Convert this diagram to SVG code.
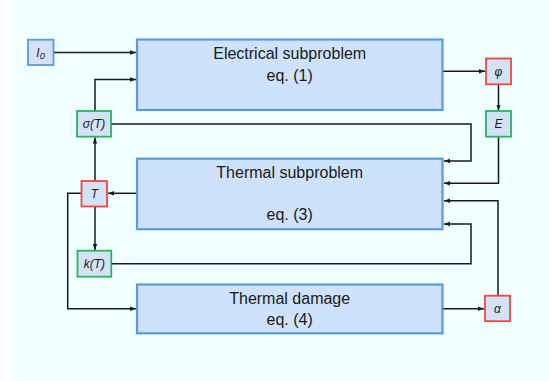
<svg xmlns="http://www.w3.org/2000/svg" width="549" height="381" viewBox="0 0 549 381">
<defs>
<style>
.big{fill:#cfe2fb;stroke:#5b9bd5;stroke-width:2.2}
.sm{fill:#d4e2f8;stroke-width:1.8}
.blue{stroke:#5b9bd5}
.red{stroke:#f2463a}
.green{stroke:#27b460}
.t{font-family:"Liberation Sans",Arial,sans-serif;font-size:16px;fill:#1a1a1a;text-anchor:middle}
.s{font-family:"Liberation Sans",Arial,sans-serif;font-size:12px;font-style:italic;fill:#1a1a1a;text-anchor:middle}
.c{fill:none;stroke:#1a1a1a;stroke-width:1.5;marker-end:url(#ah)}
</style>
<marker id="ah" markerUnits="userSpaceOnUse" markerWidth="6" markerHeight="6" viewBox="0 0 6 6" refX="6" refY="3" orient="auto">
<path d="M0,0.8 L6,3 L0,5.2 Z" fill="#1a1a1a"/>
</marker>
</defs>
<rect x="13" y="0" width="536" height="381" fill="#f0ffff"/>
<g id="connectors">
<path class="c" d="M54,52.5 H136"/>
<path class="c" d="M95,111 V79.5 H136"/>
<path class="c" d="M443,71.3 H485"/>
<path class="c" d="M498.5,84.3 V110.5"/>
<path class="c" d="M111,124 H471 V161 H444"/>
<path class="c" d="M498.5,136.7 V183.3 H444"/>
<path class="c" d="M136,193.3 H108"/>
<path class="c" d="M95,181 V137.5"/>
<path class="c" d="M95,206.5 V250"/>
<path class="c" d="M81,193.3 H67.7 V308.7 H136"/>
<path class="c" d="M111,263.7 H471 V224 H444"/>
<path class="c" d="M498,295.7 V200.7 H444"/>
<path class="c" d="M443,308.7 H484"/>
</g>
<g id="electrical">
<rect class="big" x="137" y="39.5" width="305.5" height="70.5"/>
<text class="t" x="289.7" y="59.3">Electrical subproblem</text>
<text class="t" x="289.7" y="80.7">eq. (1)</text>
</g>
<g id="thermal">
<rect class="big" x="137" y="158.7" width="305.5" height="70.5"/>
<text class="t" x="289.7" y="178.3">Thermal subproblem</text>
<text class="t" x="289.7" y="220">eq. (3)</text>
</g>
<g id="damage">
<rect class="big" x="137" y="284.5" width="305.5" height="48.8"/>
<text class="t" x="289.7" y="304">Thermal damage</text>
<text class="t" x="289.7" y="325">eq. (4)</text>
</g>
<g id="I0">
<rect class="sm blue" x="28" y="39.7" width="25.5" height="25.3"/>
<text class="s" x="40.5" y="56.5">I<tspan font-size="9" dy="2.5">0</tspan></text>
</g>
<g id="phi">
<rect class="sm red" x="486" y="58.5" width="25" height="25.8"/>
<text class="s" x="498.5" y="75.5">φ</text>
</g>
<g id="E">
<rect class="sm green" x="486" y="111" width="25" height="25.7"/>
<text class="s" x="498.5" y="128">E</text>
</g>
<g id="sigma">
<rect class="sm green" x="77" y="111" width="34" height="25.7"/>
<text class="s" x="94" y="128">σ(T)</text>
</g>
<g id="T">
<rect class="sm red" x="81.5" y="181" width="25.5" height="25.5"/>
<text class="s" x="94.3" y="198">T</text>
</g>
<g id="kT">
<rect class="sm green" x="77.5" y="250.7" width="33.8" height="26"/>
<text class="s" x="94.4" y="268">k(T)</text>
</g>
<g id="alpha">
<rect class="sm red" x="485" y="295.7" width="25" height="25.5"/>
<text class="s" x="497.5" y="312.5">α</text>
</g>
</svg>
